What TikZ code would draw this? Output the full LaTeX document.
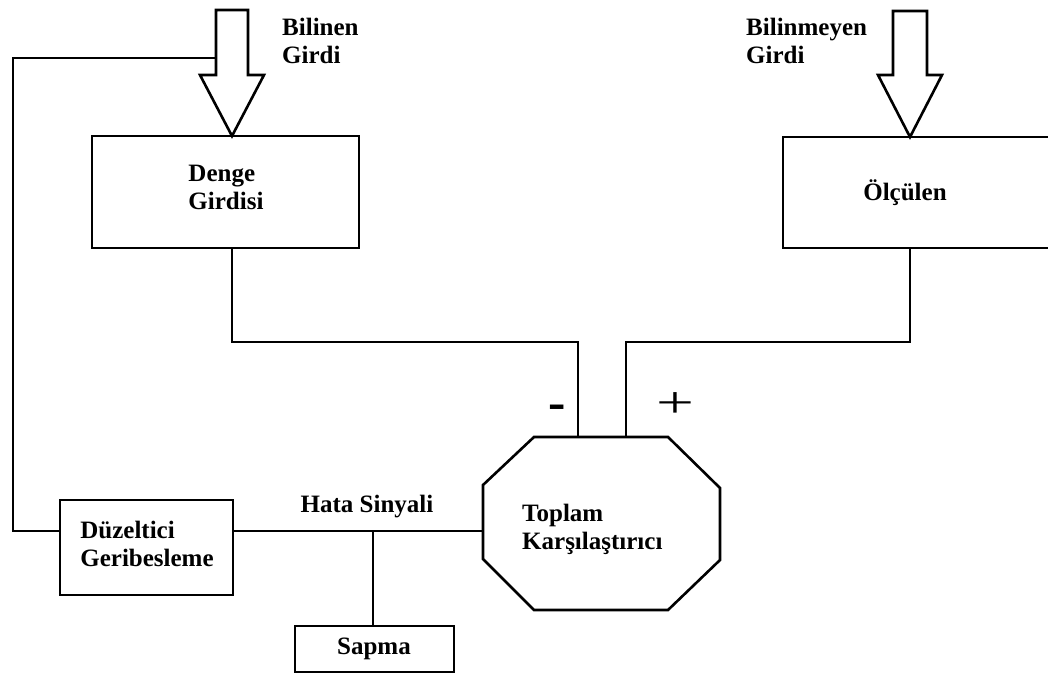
\documentclass[tikz,border=0pt]{standalone}
\usepackage{fontspec}
\setmainfont{Liberation Serif}
\begin{document}
\begin{tikzpicture}[x=1pt, y=-1pt]
	\tikzset{kutu/.style={rectangle, draw=black, line width=2.6pt, inner sep=0pt}, yazi/.style={font=\bfseries\fontsize{25}{28}\selectfont, align=left, inner sep=0pt}, cizgi/.style={line width=2.6pt, line join=miter}};

	\useasboundingbox (0,0) rectangle (1048,677);
	\clip (0,0) rectangle (1048,677);

	% kutular
	\node[kutu, minimum width=267, minimum height=112] (denge)     at (225.5, 192) {};
	\node[kutu, minimum width=292, minimum height=111] (olculen)   at (929  , 192.5) {};
	\node[kutu, minimum width=173, minimum height=95 ] (duzeltici) at (146.5, 547.5) {};
	\node[kutu, minimum width=159, minimum height=46 ] (sapma)     at (374.5, 649) {};

	\node[yazi]              (dengeyazi)   at (226, 187) {Denge\\Girdisi};
	\node[yazi]              (olculenyazi) at (905, 193) {Ölçülen};
	\node[yazi]              (duzyazi)     at (147, 544) {Düzeltici\\Geribesleme};
	\node[yazi]              (sapmayazi)   at (374, 649) {Sapma};
	\node[yazi, anchor=west] (bilinen)     at (282,  41) {Bilinen\\Girdi};
	\node[yazi, anchor=west] (bilinmeyen)  at (746,  41) {Bilinmeyen\\Girdi};
	\node[yazi]              (hata)        at (367, 507) {Hata Sinyali};
	\node[yazi, anchor=west] (toplamyazi)  at (522, 529) {Toplam\\Karşılaştırıcı};

	\node[font=\bfseries\fontsize{52}{52}\selectfont, inner sep=0pt] (eksi) at (557, 412) {-};
	\node[font=\fontsize{42}{42}\selectfont, inner sep=0pt]          (arti) at (675, 405) {\scalebox{1.6}[1.05]{+}};

	% toplam karsilastirici
	\coordinate (topsol)  at (578, 437);
	\coordinate (topsag)  at (626, 437);
	\coordinate (topbati) at (483, 531);
	\draw[cizgi] (534,437) -- (668,437) -- (720,488) -- (720,560) -- (668,610) -- (534,610) -- (483,559) -- (483,485) -- cycle;

	% bos oklar
	\draw[cizgi] (216,10) -- (216,75) -- (200,75) -- (232,136) -- (264,75) -- (248,75) -- (248,10) -- cycle;
	\draw[cizgi] (893,11) -- (893,75) -- (878,75) -- (910,137) -- (942,75) -- (927,75) -- (927,11) -- cycle;
	\coordinate (okgiris) at (216, 58);

	% baglantilar
	\draw[cizgi] ([xshift=6.5pt]denge.south) |- (578,342) -- (topsol);
	\draw[cizgi] (olculen.south -| 910,0) |- (626,342) -- (topsag);
	\draw[cizgi] (duzeltici.west |- topbati) -| (13,58) -- (okgiris);
	\draw[cizgi] (duzeltici.east |- topbati) -- (topbati);
	\draw[cizgi] (sapma.north -| 373,0) -- (373,531);

\end{tikzpicture}
\end{document}
